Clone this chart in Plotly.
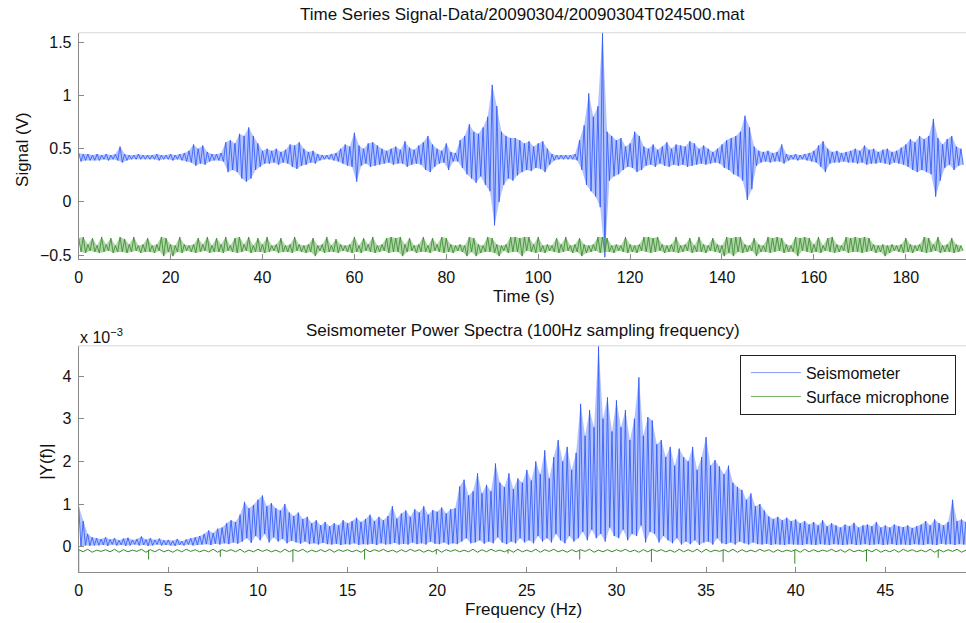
import plotly.graph_objects as go

W, H = 966, 623
FONT = "Liberation Sans, Arial, Helvetica, sans-serif"

# ---------------- time series (1 s bins: upper / lower extent of the trace) ----------------
sig_t0, sig_dt = 0.0, 1.0
sig_hi = [
    0.46, 0.45, 0.45, 0.44, 0.45, 0.44, 0.45, 0.44, 0.45, 0.52,
    0.45, 0.44, 0.44, 0.45, 0.44, 0.44, 0.44, 0.45, 0.44, 0.44,
    0.45, 0.44, 0.45, 0.46, 0.48, 0.54, 0.50, 0.53, 0.47, 0.45,
    0.45, 0.46, 0.56, 0.58, 0.55, 0.64, 0.62, 0.70, 0.62, 0.55,
    0.48, 0.50, 0.48, 0.50, 0.47, 0.49, 0.54, 0.53, 0.56, 0.50,
    0.47, 0.48, 0.45, 0.44, 0.44, 0.45, 0.46, 0.50, 0.54, 0.52,
    0.65, 0.53, 0.50, 0.55, 0.56, 0.53, 0.50, 0.48, 0.50, 0.52,
    0.49, 0.57, 0.51, 0.49, 0.53, 0.56, 0.62, 0.54, 0.50, 0.48,
    0.55, 0.47, 0.46, 0.58, 0.62, 0.73, 0.66, 0.64, 0.70, 0.80,
    1.10, 0.90, 0.66, 0.62, 0.60, 0.60, 0.58, 0.55, 0.57, 0.52,
    0.55, 0.57, 0.50, 0.45, 0.44, 0.44, 0.44, 0.44, 0.45, 0.58,
    0.72, 1.02, 0.80, 0.90, 1.60, 0.66, 0.62, 0.58, 0.60, 0.52,
    0.55, 0.66, 0.62, 0.52, 0.50, 0.54, 0.49, 0.52, 0.56, 0.50,
    0.54, 0.53, 0.52, 0.57, 0.55, 0.50, 0.53, 0.50, 0.47, 0.50,
    0.54, 0.58, 0.60, 0.62, 0.66, 0.81, 0.70, 0.52, 0.48, 0.47,
    0.48, 0.46, 0.47, 0.54, 0.45, 0.44, 0.45, 0.44, 0.45, 0.46,
    0.48, 0.53, 0.57, 0.50, 0.47, 0.48, 0.46, 0.47, 0.48, 0.50,
    0.48, 0.53, 0.49, 0.50, 0.47, 0.49, 0.50, 0.47, 0.48, 0.51,
    0.54, 0.59, 0.56, 0.62, 0.59, 0.62, 0.78, 0.60, 0.54, 0.59,
    0.62, 0.52, 0.50,
]
sig_lo = [
    0.38, 0.39, 0.39, 0.39, 0.39, 0.40, 0.39, 0.40, 0.39, 0.37,
    0.39, 0.40, 0.40, 0.40, 0.40, 0.40, 0.40, 0.39, 0.40, 0.40,
    0.39, 0.40, 0.39, 0.38, 0.37, 0.34, 0.36, 0.35, 0.38, 0.39,
    0.39, 0.38, 0.28, 0.30, 0.28, 0.22, 0.19, 0.22, 0.30, 0.33,
    0.36, 0.36, 0.37, 0.35, 0.37, 0.36, 0.33, 0.31, 0.34, 0.35,
    0.37, 0.36, 0.39, 0.40, 0.40, 0.39, 0.38, 0.36, 0.34, 0.33,
    0.19, 0.34, 0.36, 0.33, 0.34, 0.35, 0.36, 0.37, 0.35, 0.36,
    0.36, 0.33, 0.35, 0.36, 0.35, 0.30, 0.28, 0.33, 0.36, 0.37,
    0.30, 0.38, 0.38, 0.32, 0.26, 0.22, 0.18, 0.24, 0.16, 0.10,
    -0.22, 0.00, 0.16, 0.22, 0.20, 0.25, 0.28, 0.30, 0.29, 0.32,
    0.31, 0.28, 0.35, 0.39, 0.40, 0.40, 0.40, 0.40, 0.39, 0.30,
    0.16, 0.10, 0.05, -0.05, -0.52, 0.20, 0.24, 0.26, 0.30, 0.33,
    0.32, 0.28, 0.30, 0.34, 0.35, 0.33, 0.36, 0.34, 0.33, 0.35,
    0.34, 0.35, 0.33, 0.34, 0.35, 0.36, 0.35, 0.36, 0.37, 0.36,
    0.32, 0.30, 0.26, 0.24, 0.20, 0.02, 0.12, 0.34, 0.37, 0.38,
    0.37, 0.38, 0.38, 0.36, 0.39, 0.40, 0.39, 0.40, 0.39, 0.38,
    0.37, 0.33, 0.28, 0.36, 0.37, 0.37, 0.38, 0.37, 0.37, 0.36,
    0.37, 0.35, 0.36, 0.36, 0.37, 0.36, 0.35, 0.37, 0.36, 0.35,
    0.33, 0.30, 0.28, 0.30, 0.28, 0.26, 0.05, 0.20, 0.32, 0.35,
    0.30, 0.34, 0.35,
]
mic_hi = [
    -0.34, -0.33, -0.40, -0.34, -0.41, -0.33, -0.40, -0.34, -0.41, -0.33,
    -0.35, -0.40, -0.33, -0.41, -0.40, -0.34, -0.41, -0.40, -0.33, -0.34,
    -0.40, -0.41, -0.33, -0.40, -0.41, -0.40, -0.34, -0.40, -0.33, -0.41,
    -0.34, -0.40, -0.33, -0.41, -0.34, -0.33, -0.40, -0.33, -0.41, -0.34,
    -0.40, -0.33, -0.41, -0.40, -0.34, -0.41, -0.40, -0.33, -0.40, -0.41,
    -0.40, -0.34, -0.41, -0.40, -0.33, -0.41, -0.35, -0.40, -0.41, -0.40,
    -0.33, -0.41, -0.34, -0.40, -0.33, -0.41, -0.40, -0.34, -0.33, -0.34,
    -0.33, -0.40, -0.34, -0.41, -0.40, -0.33, -0.41, -0.34, -0.40, -0.33,
    -0.34, -0.40, -0.41, -0.40, -0.41, -0.33, -0.34, -0.40, -0.41, -0.33,
    -0.34, -0.40, -0.41, -0.40, -0.33, -0.33, -0.34, -0.33, -0.33, -0.40,
    -0.33, -0.41, -0.40, -0.41, -0.34, -0.40, -0.33, -0.41, -0.40, -0.34,
    -0.40, -0.41, -0.40, -0.33, -0.33, -0.34, -0.41, -0.40, -0.41, -0.33,
    -0.40, -0.41, -0.40, -0.33, -0.33, -0.34, -0.33, -0.40, -0.41, -0.40,
    -0.33, -0.41, -0.40, -0.34, -0.41, -0.33, -0.40, -0.41, -0.34, -0.40,
    -0.41, -0.33, -0.34, -0.33, -0.33, -0.40, -0.41, -0.34, -0.40, -0.41,
    -0.33, -0.34, -0.33, -0.34, -0.40, -0.41, -0.33, -0.34, -0.33, -0.34,
    -0.40, -0.33, -0.41, -0.34, -0.33, -0.40, -0.41, -0.33, -0.34, -0.33,
    -0.34, -0.33, -0.34, -0.40, -0.41, -0.40, -0.41, -0.40, -0.41, -0.40,
    -0.34, -0.40, -0.41, -0.40, -0.33, -0.34, -0.40, -0.33, -0.41, -0.40,
    -0.34, -0.40, -0.41,
]
mic_lo = [
    -0.47, -0.48, -0.46, -0.47, -0.48, -0.47, -0.46, -0.48, -0.47, -0.47,
    -0.48, -0.47, -0.46, -0.48, -0.47, -0.47, -0.48, -0.46, -0.51, -0.47,
    -0.51, -0.47, -0.48, -0.46, -0.47, -0.48, -0.47, -0.46, -0.48, -0.47,
    -0.47, -0.48, -0.46, -0.47, -0.48, -0.47, -0.46, -0.48, -0.47, -0.47,
    -0.48, -0.47, -0.46, -0.48, -0.47, -0.47, -0.48, -0.46, -0.47, -0.48,
    -0.47, -0.51, -0.46, -0.48, -0.47, -0.47, -0.48, -0.46, -0.47, -0.48,
    -0.47, -0.48, -0.46, -0.47, -0.48, -0.47, -0.46, -0.48, -0.47, -0.47,
    -0.51, -0.47, -0.46, -0.48, -0.47, -0.47, -0.48, -0.46, -0.47, -0.48,
    -0.47, -0.48, -0.46, -0.47, -0.51, -0.47, -0.51, -0.48, -0.47, -0.47,
    -0.48, -0.51, -0.46, -0.48, -0.47, -0.47, -0.51, -0.46, -0.47, -0.48,
    -0.47, -0.48, -0.46, -0.47, -0.48, -0.47, -0.46, -0.48, -0.47, -0.51,
    -0.48, -0.47, -0.46, -0.48, -0.47, -0.47, -0.48, -0.46, -0.47, -0.48,
    -0.47, -0.48, -0.46, -0.47, -0.48, -0.47, -0.46, -0.48, -0.47, -0.47,
    -0.48, -0.47, -0.46, -0.48, -0.47, -0.47, -0.48, -0.46, -0.47, -0.48,
    -0.51, -0.48, -0.51, -0.47, -0.48, -0.47, -0.46, -0.51, -0.47, -0.47,
    -0.48, -0.47, -0.46, -0.48, -0.47, -0.47, -0.51, -0.46, -0.47, -0.48,
    -0.47, -0.48, -0.46, -0.47, -0.48, -0.47, -0.46, -0.48, -0.47, -0.47,
    -0.48, -0.47, -0.46, -0.48, -0.47, -0.51, -0.48, -0.46, -0.47, -0.48,
    -0.47, -0.48, -0.46, -0.47, -0.48, -0.47, -0.46, -0.48, -0.47, -0.47,
    -0.48, -0.47, -0.46,
]

# ---------------- spectra (|Y(f)| in units of 1e-3) ----------------
spec_f0, spec_df = 0.0, 0.25
spec_hi = [
    0.95, 0.60, 0.30, 0.22,
    0.20, 0.18, 0.22, 0.17, 0.20, 0.15, 0.19, 0.21, 0.16, 0.18, 0.24, 0.17, 0.20, 0.16, 0.19, 0.15,
    0.16, 0.14, 0.18, 0.13, 0.17, 0.20, 0.22, 0.25,
    0.30, 0.38, 0.32, 0.42,
    0.45, 0.55, 0.62, 0.58,
    0.75, 1.05, 0.90, 0.98,
    1.10, 1.20, 0.95, 1.02,
    0.90, 0.85, 1.00, 0.80,
    0.72, 0.80, 0.65, 0.70,
    0.55, 0.62, 0.50, 0.58,
    0.48, 0.55, 0.50, 0.62,
    0.55, 0.60, 0.68, 0.58,
    0.65, 0.75, 0.60, 0.70,
    0.62, 0.72, 0.95, 0.66,
    0.78, 0.85, 0.70, 0.88,
    0.80, 0.95, 0.75, 0.86,
    0.82, 0.92, 0.78, 0.88,
    0.90, 1.41, 1.57, 1.20,
    1.30, 1.72, 1.25, 1.45,
    1.30, 1.95, 1.50, 1.40,
    1.72, 1.35, 1.60, 1.50,
    1.80, 1.55, 2.00, 1.70,
    2.26, 1.60, 2.10, 2.50,
    2.00, 2.34, 1.80, 2.20,
    3.35, 2.60, 3.20, 2.80,
    4.70, 3.00, 3.50, 2.70,
    3.43, 2.80, 3.20, 2.50,
    3.00, 3.97, 2.60, 3.04,
    2.96, 2.40, 2.50, 2.10,
    2.34, 1.90, 2.30, 2.10,
    2.00, 2.34, 1.80, 2.10,
    2.57, 1.90, 2.03, 1.88,
    1.70, 1.90, 1.50, 1.40,
    1.33, 1.10, 1.25, 0.95,
    1.00, 0.85, 0.71, 0.65,
    0.70, 0.62, 0.68, 0.60,
    0.64, 0.55, 0.60, 0.52,
    0.58, 0.50, 0.62, 0.48,
    0.55, 0.50, 0.45, 0.52,
    0.48, 0.56, 0.45, 0.50,
    0.52, 0.48, 0.58, 0.45,
    0.50, 0.45, 0.52, 0.48,
    0.46, 0.50, 0.44, 0.48,
    0.52, 0.60, 0.50, 0.64,
    0.55, 0.50, 0.58, 1.10,
    0.60, 0.64, 0.58,
]
spec_lo = [
    0.00, 0.03, 0.02, 0.03,
    0.03, 0.04, 0.02, 0.05, 0.03, 0.04, 0.02, 0.03, 0.05, 0.03, 0.04, 0.02, 0.03, 0.05, 0.03, 0.04,
    0.03, 0.02, 0.04, 0.03, 0.05, 0.03, 0.04, 0.05,
    0.06, 0.04, 0.07, 0.05,
    0.08, 0.06, 0.10, 0.07, 0.12, 0.20, 0.09, 0.25,
    0.15, 0.30, 0.10, 0.22, 0.12, 0.18, 0.08, 0.14,
    0.10, 0.07, 0.12, 0.06, 0.08, 0.05, 0.09, 0.06,
    0.05, 0.07, 0.04, 0.06, 0.05, 0.08, 0.04, 0.06,
    0.05, 0.07, 0.04, 0.08, 0.05, 0.06, 0.09, 0.05,
    0.07, 0.05, 0.10, 0.06, 0.08, 0.05, 0.12, 0.07,
    0.06, 0.10, 0.05, 0.08, 0.06, 0.12, 0.20, 0.08,
    0.10, 0.15, 0.07, 0.12, 0.08, 0.22, 0.10, 0.06,
    0.12, 0.08, 0.20, 0.10, 0.15, 0.08, 0.25, 0.12,
    0.20, 0.10, 0.30, 0.15, 0.08, 0.25, 0.12, 0.20,
    0.35, 0.15, 0.40, 0.20, 0.30, 0.12, 0.45, 0.25,
    0.20, 0.40, 0.15, 0.30, 0.25, 0.50, 0.10, 0.35,
    0.30, 0.10, 0.25, 0.15, 0.08, 0.20, 0.05, 0.12,
    0.06, 0.15, 0.04, 0.10, 0.12, 0.05, 0.20, 0.08,
    0.06, 0.10, 0.05, 0.12, 0.08, 0.05, 0.10, 0.06,
    0.05, 0.07, 0.04, 0.06, 0.05, 0.04, 0.06, 0.05,
    0.05, 0.04, 0.06, 0.05, 0.04, 0.06, 0.05, 0.04, 0.06, 0.05,
    0.04, 0.05, 0.06, 0.04, 0.05, 0.06, 0.04, 0.05, 0.06, 0.04,
    0.05, 0.06, 0.04, 0.05, 0.05, 0.04, 0.06, 0.05, 0.04, 0.06,
    0.05, 0.04, 0.07, 0.05, 0.06, 0.04, 0.06, 0.05, 0.04,
]
mic_f0, mic_df = 0.0, 0.5
mic_spec_hi = [
    -0.07, -0.06, -0.08, -0.07, -0.06, -0.07, -0.08, -0.06, -0.07, -0.06,
    -0.08, -0.07, -0.06, -0.07, -0.08, -0.06, -0.07, -0.07, -0.06, -0.08,
    -0.06, -0.07, -0.08, -0.06, -0.07, -0.06, -0.08, -0.07, -0.06, -0.07,
    -0.07, -0.08, -0.06, -0.07, -0.06, -0.08, -0.07, -0.06, -0.07, -0.08,
    -0.06, -0.07, -0.07, -0.08, -0.06, -0.07, -0.06, -0.08, -0.07, -0.06,
    -0.08, -0.06, -0.07, -0.06, -0.08, -0.07, -0.07, -0.06, -0.08, -0.07,
    -0.07, -0.06, -0.08, -0.07, -0.06, -0.07, -0.08, -0.06, -0.07, -0.06,
    -0.06, -0.08, -0.07, -0.06, -0.07, -0.08, -0.06, -0.07, -0.07, -0.08,
    -0.07, -0.06, -0.07, -0.08, -0.06, -0.07, -0.06, -0.08, -0.07, -0.06,
    -0.08, -0.07, -0.06, -0.07, -0.08, -0.06, -0.07, -0.07, -0.06, -0.08,
]
mic_spec_lo = [
    -0.12, -0.13, -0.11, -0.12, -0.13, -0.12, -0.11, -0.13, -0.12, -0.12,
    -0.13, -0.12, -0.11, -0.12, -0.12, -0.13, -0.11, -0.12, -0.13, -0.12,
    -0.11, -0.12, -0.13, -0.12, -0.11, -0.13, -0.12, -0.12, -0.13, -0.11,
    -0.12, -0.13, -0.12, -0.11, -0.12, -0.13, -0.12, -0.11, -0.13, -0.12,
    -0.13, -0.11, -0.12, -0.12, -0.13, -0.12, -0.11, -0.12, -0.13, -0.12,
    -0.12, -0.13, -0.11, -0.12, -0.13, -0.12, -0.11, -0.13, -0.12, -0.12,
    -0.11, -0.12, -0.13, -0.12, -0.11, -0.12, -0.13, -0.12, -0.12, -0.13,
    -0.12, -0.11, -0.12, -0.13, -0.12, -0.12, -0.11, -0.13, -0.12, -0.11,
    -0.13, -0.12, -0.12, -0.11, -0.12, -0.13, -0.12, -0.11, -0.12, -0.13,
    -0.12, -0.13, -0.11, -0.12, -0.12, -0.13, -0.12, -0.11, -0.13, -0.12,
]
mic_spike_f = [0.0, 3.9, 7.9, 11.95, 15.95, 19.95, 23.95, 27.95, 31.95, 35.95, 39.95, 43.95, 47.95]
mic_spike_lo = [-0.60, -0.30, -0.24, -0.36, -0.30, -0.18, -0.16, -0.30, -0.36, -0.36, -0.40, -0.35, -0.26]

SEIS_LINE = "rgb(45,85,248)"
SEIS_FILL = "rgba(115,145,255,0.55)"
SEIS_LEGEND = "rgb(135,150,255)"
MIC_LINE = "rgb(55,135,45)"
MIC_FILL = "rgba(110,180,95,0.55)"
MIC_LEGEND = "rgb(110,175,95)"


def zigzag(x0, dx, hi, lo):
    """Trace that alternates between the upper and lower extent of each bin."""
    xs, ys = [], []
    for i, (h, l) in enumerate(zip(hi, lo)):
        x = x0 + i * dx
        xs += [x, x + dx / 2]
        ys += [h, l]
    return xs, ys


def band(x0, dx, hi, lo):
    """Closed outline spanning the upper and lower extent of every bin."""
    xh = [x0 + i * dx for i in range(len(hi))]
    xl = [x0 + i * dx + dx / 2 for i in range(len(lo))]
    return xh + xl[::-1], list(hi) + list(lo)[::-1]


fig = go.Figure()


def add_signal(x0, dx, hi, lo, line, fill, xa, ya):
    bx, by = band(x0, dx, hi, lo)
    fig.add_trace(go.Scatter(x=bx, y=by, mode="lines", fill="toself", fillcolor=fill,
                             line=dict(width=0), hoverinfo="skip", showlegend=False,
                             xaxis=xa, yaxis=ya))
    zx, zy = zigzag(x0, dx, hi, lo)
    fig.add_trace(go.Scatter(x=zx, y=zy, mode="lines", line=dict(color=line, width=0.8),
                             showlegend=False, xaxis=xa, yaxis=ya))


# top panel: seismometer voltage and surface microphone
add_signal(sig_t0, sig_dt, sig_hi, sig_lo, SEIS_LINE, SEIS_FILL, "x", "y")
add_signal(sig_t0, sig_dt, mic_hi, mic_lo, MIC_LINE, MIC_FILL, "x", "y")

# bottom panel: spectra
add_signal(spec_f0, spec_df, spec_hi, spec_lo, SEIS_LINE, SEIS_FILL, "x2", "y2")
gx, gy = zigzag(mic_f0, mic_df, mic_spec_hi, mic_spec_lo)
for f, lo in zip(mic_spike_f, mic_spike_lo):
    top = mic_spec_hi[int(round((f - mic_f0) / mic_df))]
    gx += [None, f, f]
    gy += [None, top, lo]
fig.add_trace(go.Scatter(x=gx, y=gy, mode="lines", line=dict(color=MIC_LINE, width=1),
                         showlegend=False, xaxis="x2", yaxis="y2"))

# legend entries
fig.add_trace(go.Scatter(x=[None], y=[None], mode="lines", name="Seismometer",
                         line=dict(color=SEIS_LEGEND, width=1), xaxis="x2", yaxis="y2"))
fig.add_trace(go.Scatter(x=[None], y=[None], mode="lines", name="Surface microphone",
                         line=dict(color=MIC_LEGEND, width=1), xaxis="x2", yaxis="y2"))


def py(pix):
    return (H - pix) / H


def px(pix):
    return pix / W


X0 = 75
top_dom = [py(261), py(33)]
bot_dom = [py(576), py(348)]

axis_common = dict(
    showline=True, linecolor="#8a8a8a", linewidth=1,
    ticks="inside", ticklen=5, tickcolor="#8a8a8a",
    showgrid=False, zeroline=False,
    tickfont=dict(family=FONT, size=16, color="#111"),
)

fig.update_layout(
    width=W, height=H,
    margin=dict(l=0, r=0, t=0, b=0),
    paper_bgcolor="white", plot_bgcolor="white",
    font=dict(family=FONT, size=17, color="#111"),
    xaxis=dict(domain=[px(X0), 1], anchor="y", range=[0, 193.1], tick0=0, dtick=20,
               ticklabelstandoff=3, **axis_common),
    yaxis=dict(domain=top_dom, anchor="x", range=[-0.54, 1.59], tick0=0, dtick=0.5,
               ticklabelstandoff=3, **axis_common),
    xaxis2=dict(domain=[px(X0), 1], anchor="y2", range=[0, 49.5], tick0=0, dtick=5,
                ticklabelstandoff=3, **axis_common),
    yaxis2=dict(domain=bot_dom, anchor="x2", range=[-0.6, 4.71], tick0=0, dtick=1,
                ticklabelstandoff=3, **axis_common),
    legend=dict(x=px(739), y=py(357), xanchor="left", yanchor="top",
                bordercolor="#222", borderwidth=1, bgcolor="white",
                font=dict(family=FONT, size=16, color="#111"), itemwidth=50,
                indentation=5, entrywidth=235, entrywidthmode="pixels",
                tracegroupgap=0),
    showlegend=True,
)

# light box edge along the top of each panel
for dom in (top_dom, bot_dom):
    fig.add_shape(type="line", xref="paper", yref="paper", x0=px(X0), x1=1, y0=dom[1], y1=dom[1],
                  line=dict(color="#d6d6d6", width=1))

ann = [
    dict(text="Time Series Signal-Data/20090304/20090304T024500.mat", x=px(521), y=py(15)),
    dict(text="Time (s)", x=px(522), y=py(298)),
    dict(text="Signal (V)", x=px(18), y=py(150), textangle=-90),
    dict(text="Seismometer Power Spectra (100Hz sampling frequency)", x=px(521), y=py(333)),
    dict(text="Frequency (Hz)", x=px(522), y=py(613)),
    dict(text="|Y(f)|", x=px(42), y=py(465), textangle=-90),
]
for a in ann:
    fig.add_annotation(xref="paper", yref="paper", showarrow=False,
                       xanchor="center", yanchor="middle",
                       font=dict(family=FONT, size=17, color="#111"), **a)
fig.add_annotation(xref="paper", yref="paper", showarrow=False, xanchor="left", yanchor="middle",
                   x=px(74), y=py(338), text="x 10<sup>\u22123</sup>",
                   font=dict(family=FONT, size=16, color="#111"))

fig.write_html("out.html")
